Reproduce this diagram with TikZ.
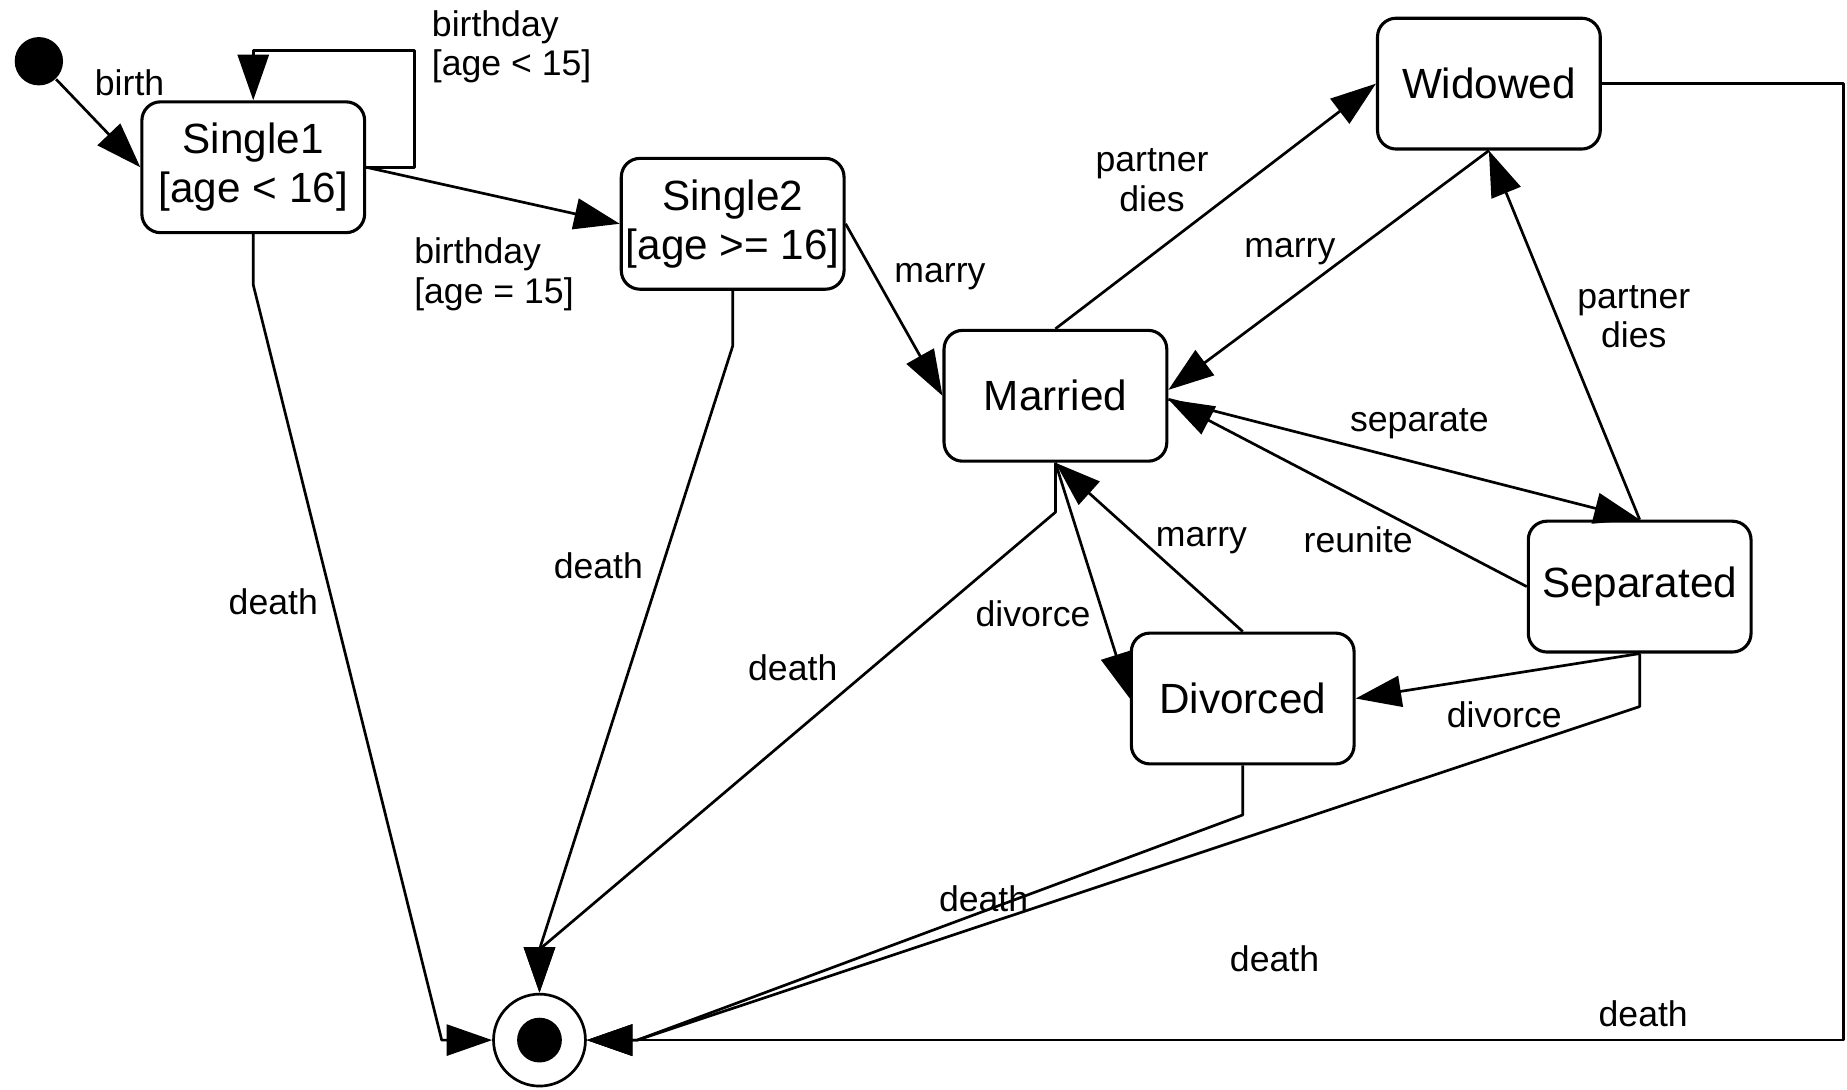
\documentclass[tikz,border=0pt]{standalone}
\usepackage{fontspec}
\setmainfont{Liberation Sans}
\usetikzlibrary{arrows.meta,calc}
\begin{document}
\begin{tikzpicture}[x=0.01cm,y=-0.01cm,
  state/.style={draw, rounded corners=4.5pt, minimum width=1.89cm, minimum height=1.11cm,
    line width=0.75pt, align=center, font=\fontsize{10.2}{11.9}\selectfont, inner sep=0pt},
  tr/.style={line width=0.65pt, line join=round, -{Triangle[length=11pt,width=7.5pt]}},
  lbl/.style={font=\fontsize{8.6}{9.5}\selectfont, inner sep=0pt, align=center},
]
\useasboundingbox (0,0) rectangle (1568,925);

% states
\node[circle, fill, inner sep=0pt, minimum size=0.41cm] (init) at (33,52) {};
\node[state] (s1) at (215,142) {Single1\\{[age < 16]}};
\node[state] (s2) at (622,190) {Single2\\{[age >= 16]}};
\node[state] (m) at (896,336) {Married};
\node[state] (w) at (1264,71) {Widowed};
\node[state] (sep) at (1392,498) {Separated};
\node[state] (div) at (1055,593) {Divorced};
\node[circle, draw, line width=0.65pt, minimum size=0.78cm, inner sep=0pt] (fin) at (458,883) {};
\node[circle, fill, minimum size=0.38cm, inner sep=0pt] (finin) at (458,883) {};

% transitions
\draw[tr] (init) -- (s1.west);
\draw[tr] (s1.east) -| (352,43) -| (s1.north);
\draw[tr] (s1.east) -- (s2.west);
\draw[tr] (s2.east) -- (m.west);
\draw[tr] (m.north) -- (w.west);
\draw[tr] (w.south) -- ($(m.east)+(0,-5)$);
\draw[tr] ($(m.east)+(0,3)$) -- (sep.north);
\draw[tr] (sep.west) -- ($(m.east)+(0,3)$);
\draw[tr] (sep.north) -- (w.south);
\draw[tr] (m.south) -- (div.west);
\draw[tr] (div.north) -- (m.south);
\draw[tr] (sep.south) -- (div.east);

% deaths
\draw[tr] (s1.south) -- ++(0,43) -- (375,883) -- (fin.west);
\draw[tr] (s2.south) -- ++(0,47) -- (458,806) -- (fin.north);
\draw[tr] (m.south) -- ++(0,42) -- (458,806) -- (fin.north);
\draw[tr] (div.south) -- ++(0,42) -- (541,883) -- (fin.east);
\draw[tr] (sep.south) -- ++(0,45) -- (541,883) -- (fin.east);
\draw[tr] (w.east) -| (1565,883) -- (fin.east);

% labels
\node[lbl] (lbirth) at (110,70) {birth};
\node[lbl, align=left, anchor=west] (lb1) at (366,40) {birthday\\{[age < 15]}};
\node[lbl, align=left, anchor=west] (lb2) at (351,233) {birthday\\{[age = 15]}};
\node[lbl] (lmarry1) at (798,235) {marry};
\node[lbl] (lpd1) at (978,153) {partner\\dies};
\node[lbl] (lmarry2) at (1095,214) {marry};
\node[lbl] (lpd2) at (1387,269) {partner\\dies};
\node[lbl] (lsep) at (1205,360) {separate};
\node[lbl] (lreu) at (1153,458) {reunite};
\node[lbl] (lmarry3) at (1020,459) {marry};
\node[lbl] (ldiv1) at (877,521) {divorce};
\node[lbl] (ldiv2) at (1277,607) {divorce};
\node[lbl] (ld1) at (232,511) {death};
\node[lbl] (ld2) at (508,480) {death};
\node[lbl] (ld3) at (673,567) {death};
\node[lbl] (ld4) at (835,763) {death};
\node[lbl] (ld5) at (1082,814) {death};
\node[lbl] (ld6) at (1395,861) {death};
\end{tikzpicture}
\end{document}
